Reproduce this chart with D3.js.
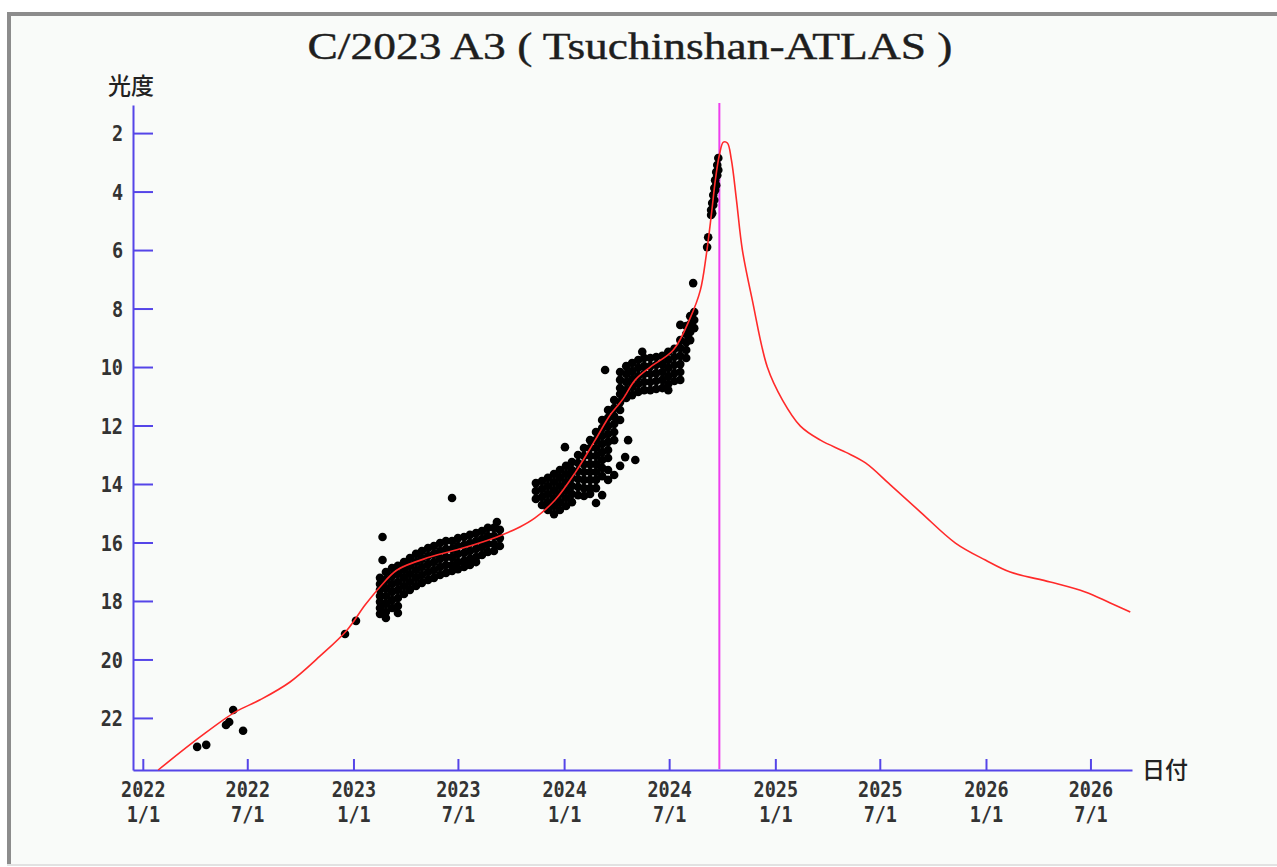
<!DOCTYPE html>
<html>
<head>
<meta charset="utf-8">
<script src="https://cdn.jsdelivr.net/npm/d3@7/dist/d3.min.js"></script>
<style>
    html, body { margin: 0; padding: 0; background: #fff; }
    svg { display: block; }
    .tick-label { font-family: "DejaVu Sans Mono", monospace; font-weight: bold; font-size: 21px; fill: #333; }
    .jp { font-family: "Noto Sans CJK JP", sans-serif; font-size: 23px; font-weight: 500; fill: #222; }
</style>
</head>
<body>
<svg width="1277" height="867"></svg>
<script>
const TITLE = "C/2023 A3 ( Tsuchinshan-ATLAS )";
const Y_LABEL = "光度";
const X_LABEL = "日付";

const MAG_TICKS = [2, 4, 6, 8, 10, 12, 14, 16, 18, 20, 22];
const DATE_TICKS = ["2022-01-01", "2022-07-01", "2023-01-01", "2023-07-01", "2024-01-01",
    "2024-07-01", "2025-01-01", "2025-07-01", "2026-01-01", "2026-07-01"];
const NOW_DATE = "2024-09-26";

// predicted light curve (decimal year, magnitude)
const CURVE_YEAR = [2022.073, 2022.272, 2022.438, 2022.557, 2022.699, 2022.842, 2022.970, 2023.055,
    2023.126, 2023.207, 2023.363, 2023.520, 2023.681, 2023.790, 2023.862, 2023.957, 2024.052,
    2024.147, 2024.218, 2024.275, 2024.337, 2024.408, 2024.517, 2024.597, 2024.645, 2024.673,
    2024.697, 2024.716, 2024.735, 2024.754, 2024.773, 2024.792, 2024.816, 2024.844, 2024.891,
    2024.962, 2025.034, 2025.119, 2025.214, 2025.333, 2025.428, 2025.546, 2025.689, 2025.855,
    2025.997, 2026.115, 2026.305, 2026.471, 2026.590, 2026.685];
const CURVE_MAG = [23.78, 22.65, 21.80, 21.38, 20.77, 19.88, 18.99, 18.14,
    17.52, 16.94, 16.50, 16.19, 15.81, 15.47, 15.16, 14.55, 13.62,
    12.50, 11.64, 11.13, 10.44, 10.00, 9.42, 8.32, 7.37, 6.17,
    4.80, 3.61, 2.75, 2.31, 2.34, 2.92, 4.29, 6.00, 7.71,
    10.00, 11.13, 12.02, 12.50, 12.91, 13.28, 14.03, 14.96, 16.02,
    16.60, 17.01, 17.35, 17.69, 18.07, 18.38];

// observations: [decimal year, [magnitudes reported around that date]]
const OBS_2022 = [
    [2022.258, [22.99]], [2022.301, [22.92]], [2022.395, [22.24]], [2022.410, [22.14]],
    [2022.429, [21.73]], [2022.476, [22.44]], [2022.960, [19.13]], [2023.012, [18.68]]
];
const OBS_2023 = [
    [2023.126, [17.21, 17.42, 17.62, 17.83, 18.03, 18.24, 18.44]],
    [2023.138, [15.81, 16.60]],
    [2023.154, [17.01, 17.28, 17.56, 17.83, 18.10, 18.38, 18.58]],
    [2023.183, [16.87, 17.15, 17.42, 17.69, 17.97, 18.24]],
    [2023.211, [16.80, 17.08, 17.35, 17.62, 17.90, 18.17, 18.41]],
    [2023.240, [16.67, 16.94, 17.21, 17.49, 17.76]],
    [2023.268, [16.53, 16.80, 17.08, 17.35, 17.62]],
    [2023.297, [16.39, 16.67, 16.94, 17.21, 17.49]],
    [2023.325, [16.29, 16.56, 16.84, 17.11, 17.38]],
    [2023.354, [16.19, 16.46, 16.74, 17.01, 17.28]],
    [2023.382, [16.12, 16.39, 16.67, 16.94, 17.21]],
    [2023.411, [16.02, 16.29, 16.56, 16.84, 17.11]],
    [2023.439, [15.95, 16.22, 16.50, 16.77, 17.04]],
    [2023.468, [14.48, 15.95, 16.22, 16.50, 16.77, 16.97]],
    [2023.496, [15.85, 16.12, 16.39, 16.67, 16.91]],
    [2023.525, [15.81, 16.09, 16.36, 16.63, 16.84]],
    [2023.553, [15.74, 16.02, 16.29, 16.56, 16.77]],
    [2023.582, [15.68, 15.95, 16.22, 16.50, 16.67]],
    [2023.610, [15.61, 15.88, 16.15, 16.43]],
    [2023.638, [15.50, 15.78, 16.05, 16.32]],
    [2023.667, [15.50, 15.78, 16.05, 16.29]],
    [2023.681, [15.30]],
    [2023.695, [15.57, 15.85, 16.12]]
];
const OBS_2024 = [
    [2023.866, [13.97, 14.24, 14.51]],
    [2023.895, [13.90, 14.17, 14.44, 14.72]],
    [2023.923, [13.79, 14.07, 14.34, 14.62, 14.89]],
    [2023.952, [13.66, 13.93, 14.21, 14.48, 14.75, 15.03]],
    [2023.980, [13.52, 13.79, 14.07, 14.34, 14.62, 14.89]],
    [2024.004, [12.74]],
    [2024.009, [13.38, 13.66, 13.93, 14.21, 14.48, 14.75]],
    [2024.037, [13.25, 13.52, 13.79, 14.07, 14.34, 14.62]],
    [2024.066, [13.01, 13.28, 13.56, 13.83, 14.10, 14.38]],
    [2024.094, [12.77, 13.04, 13.32, 13.59, 13.86, 14.14, 14.41]],
    [2024.123, [12.50, 12.77, 13.04, 13.32, 13.59, 13.86, 14.14, 14.34]],
    [2024.151, [12.22, 12.50, 12.77, 13.04, 13.32, 13.59, 13.86, 14.14, 14.65]],
    [2024.180, [11.81, 12.09, 12.36, 12.63, 12.91, 13.18, 13.45, 13.73, 14.38]],
    [2024.194, [10.10]],
    [2024.208, [11.47, 11.74, 12.02, 12.29, 12.56, 12.84, 13.11, 13.52, 13.86]],
    [2024.237, [11.13, 11.40, 11.68, 11.95, 12.22, 12.50, 13.69]],
    [2024.265, [10.17, 10.44, 10.72, 10.92, 11.20, 11.47, 11.81, 13.38]],
    [2024.289, [13.08]],
    [2024.294, [9.97, 10.24, 10.51, 10.79, 11.06]],
    [2024.303, [12.50]],
    [2024.322, [9.86, 10.14, 10.41, 10.68, 10.96]],
    [2024.337, [13.18]],
    [2024.351, [9.76, 10.03, 10.31, 10.58, 10.85]],
    [2024.370, [9.48]],
    [2024.379, [9.69, 9.97, 10.24, 10.51, 10.79]],
    [2024.408, [9.69, 9.97, 10.24, 10.51, 10.79]],
    [2024.436, [9.66, 9.93, 10.21, 10.48, 10.75]],
    [2024.465, [9.62, 9.90, 10.17, 10.44, 10.72]],
    [2024.493, [9.48, 9.76, 10.03, 10.31, 10.58, 10.79]],
    [2024.522, [9.38, 9.66, 9.93, 10.21, 10.48]],
    [2024.550, [8.56, 9.08, 9.35, 9.62, 9.90, 10.17, 10.44]],
    [2024.578, [8.60, 8.87, 9.15, 9.42, 9.69]],
    [2024.597, [8.26, 8.53, 8.80, 9.08]],
    [2024.611, [7.13]],
    [2024.616, [8.12, 8.39, 8.67]],
    [2024.677, [5.90]],
    [2024.682, [5.56]],
    [2024.696, [4.63, 4.80]],
    [2024.701, [4.39, 4.74]],
    [2024.706, [4.12, 4.46]],
    [2024.711, [3.88, 4.29]],
    [2024.715, [3.61, 3.95]],
    [2024.720, [3.33, 3.78]],
    [2024.725, [3.09, 3.44]],
    [2024.730, [2.85, 3.26]]
];

const AXIS_COLOR = "#5545e8";
const LABEL_SX = 0.88;
const parseDate = d3.timeParse("%Y-%m-%d");

function yearToDate(y) {
    const yr = Math.floor(y);
    const start = new Date(yr, 0, 1);
    const end = new Date(yr + 1, 0, 1);
    return new Date(+start + (y - yr) * (end - start));
}

const svg = d3.select("svg");

// window frame
svg.append("rect").attr("x", 8).attr("y", 13).attr("width", 1275).attr("height", 851)
    .attr("fill", "#f9fbf9");
svg.append("line").attr("x1", 7).attr("x2", 1277).attr("y1", 14).attr("y2", 14)
    .attr("stroke", "#8c8c8c").attr("stroke-width", 4);
svg.append("line").attr("x1", 9).attr("x2", 9).attr("y1", 12).attr("y2", 866)
    .attr("stroke", "#8c8c8c").attr("stroke-width", 4);
svg.append("line").attr("x1", 7).attr("x2", 1277).attr("y1", 865).attr("y2", 865)
    .attr("stroke", "#e2e2e2").attr("stroke-width", 2);

const x = d3.scaleTime()
    .domain([new Date(2021, 11, 15), new Date(2026, 8, 11)])
    .range([133, 1132]);
const y = d3.scaleLinear()
    .domain([1.04, 23.78])
    .range([105, 770]);

// title
svg.append("text")
    .attr("x", 630).attr("y", 59)
    .attr("text-anchor", "middle")
    .attr("font-family", "Liberation Serif, serif")
    .attr("font-size", 37)
    .attr("fill", "#1e1e1e")
    .attr("stroke", "#1e1e1e").attr("stroke-width", 0.4)
    .attr("textLength", 645)
    .attr("lengthAdjust", "spacingAndGlyphs")
    .text(TITLE);

// axes
const yAxis = svg.append("g")
    .attr("transform", "translate(133,0)")
    .call(d3.axisLeft(y).tickValues(MAG_TICKS).tickSize(-20).tickSizeOuter(0).tickPadding(10));
yAxis.selectAll("text")
    .attr("class", "tick-label")
    .attr("font-family", null).attr("font-size", null)
    .attr("x", -10 / LABEL_SX)
    .attr("dy", "0.36em")
    .attr("transform", `scale(${LABEL_SX},1)`);

const xAxis = svg.append("g")
    .attr("transform", "translate(0,770)")
    .call(d3.axisBottom(x).tickValues(DATE_TICKS.map(parseDate)).tickSize(-11).tickSizeOuter(0)
        .tickFormat(() => ""));
xAxis.selectAll(".tick").each(function (d) {
    const g = d3.select(this);
    g.append("text")
        .attr("class", "tick-label")
        .attr("text-anchor", "middle")
        .attr("transform", `scale(${LABEL_SX},1)`)
        .attr("x", 0).attr("y", 27)
        .text(d3.timeFormat("%Y")(d));
    g.append("text")
        .attr("class", "tick-label")
        .attr("text-anchor", "middle")
        .attr("transform", `scale(${LABEL_SX},1)`)
        .attr("x", 0).attr("y", 52)
        .text((d.getMonth() + 1) + "/" + d.getDate());
});

[yAxis, xAxis].forEach(a => {
    a.select(".domain").attr("stroke", AXIS_COLOR).attr("stroke-width", 2);
    a.selectAll(".tick line").attr("stroke", AXIS_COLOR).attr("stroke-width", 2);
});

svg.append("text").attr("class", "jp")
    .attr("x", 131).attr("y", 94).attr("text-anchor", "middle").text(Y_LABEL);
svg.append("text").attr("class", "jp")
    .attr("x", 1142).attr("y", 778).text(X_LABEL);

// current date marker
const nowX = x(parseDate(NOW_DATE));
svg.append("line")
    .attr("x1", nowX).attr("x2", nowX)
    .attr("y1", 103).attr("y2", 769)
    .attr("stroke", "#ee3fee").attr("stroke-width", 2);

// observations
const points = [];
[OBS_2022, OBS_2023, OBS_2024].forEach(group => {
    group.forEach(([yr, mags]) => mags.forEach(m => points.push([yr, m])));
});

svg.append("g")
    .selectAll("circle")
    .data(points)
    .join("circle")
    .attr("cx", d => x(yearToDate(d[0])))
    .attr("cy", d => y(d[1]))
    .attr("r", 4.3)
    .attr("fill", "#000");

// light curve
const curve = d3.line()
    .x(d => x(yearToDate(d[0])))
    .y(d => y(d[1]))
    .curve(d3.curveCatmullRom.alpha(0.5));

svg.append("path")
    .datum(d3.zip(CURVE_YEAR, CURVE_MAG))
    .attr("d", curve)
    .attr("fill", "none")
    .attr("stroke", "#ff2a2a")
    .attr("stroke-width", 1.6);
</script>
</body>
</html>
